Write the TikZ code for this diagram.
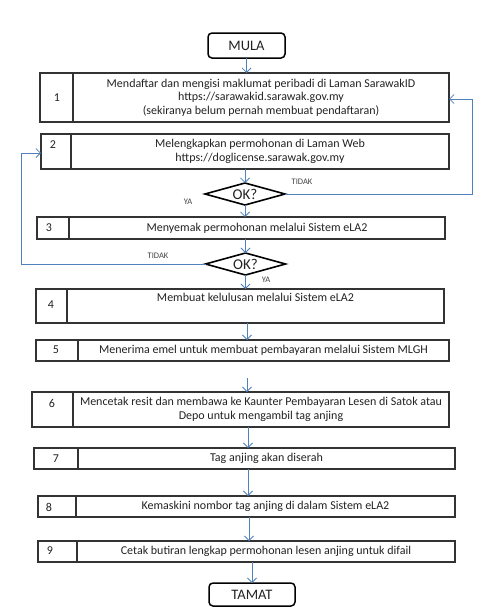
\documentclass[tikz,border=0pt]{standalone}
\usepackage{fontspec}
\setmainfont{Carlito}
\usetikzlibrary{shapes.geometric,arrows.meta,calc}
\definecolor{arrowblue}{HTML}{4F81BD}
\definecolor{boxline}{HTML}{333333}
\definecolor{txt}{HTML}{222222}
\tikzset{
  cell/.style={draw=boxline, line width=1.2pt, rectangle, inner sep=0pt, outer sep=0pt,
    font=\fontsize{12}{13.5}\selectfont, text=txt, align=center},
  term/.style={draw=black, line width=1.5pt, rounded corners=4pt, inner sep=0pt, outer sep=0pt,
    font=\fontsize{14.5}{16}\selectfont, text=txt},
  dec/.style={diamond, draw=black, line width=1.6pt, inner sep=0pt, outer sep=0pt,
    minimum width=80pt, minimum height=22pt, aspect=3.6, font=\fontsize{15}{16}\selectfont, text=txt},
  arr/.style={draw=arrowblue, line width=0.8pt, -{Straight Barb[length=4.5pt,width=9pt]}},
  lbl/.style={font=\fontsize{8.5}{9}\selectfont, text=txt!85, inner sep=0pt},
  num/.style={font=\fontsize{12}{13}\selectfont, text=txt, inner sep=0pt}
}
% id, x0, divider, x1, y0, y1, text, number x, number y
\newcommand\mkstep[9]{%
  \node[cell, minimum width={#3-#2}, minimum height={#6-#5}] (n#1) at ({(#2+#3)/2},{(#5+#6)/2}) {};
  \node[cell, minimum width={#4-#3}, minimum height={#6-#5}] (t#1) at ({(#3+#4)/2},{(#5+#6)/2}) {#7};
  \node[num] (l#1) at (#8,#9) {#1};
}
\begin{document}
\begin{tikzpicture}[x=1pt,y=-1pt]
\useasboundingbox (0,0) rectangle (489,613);
\node[term, minimum width=77pt, minimum height=25pt] (mula) at (246.5,45.5) {MULA};
\mkstep{1}{40}{73}{449}{73}{122}{Mendaftar dan mengisi maklumat peribadi di Laman SarawakID\\https://sarawakid.sarawak.gov.my\\(sekiranya belum pernah membuat pendaftaran)}{57}{98}
\mkstep{2}{41}{71}{449}{134}{169}{Melengkapkan permohonan di Laman Web\\https://doglicense.sarawak.gov.my}{53}{145}
\node[dec] (d1) at (245,194) {OK?};
\mkstep{3}{37}{69}{445}{217}{239}{Menyemak permohonan melalui Sistem eLA2}{49}{228}
\node[dec] (d2) at (245.5,264) {OK?};
\mkstep{4}{36}{67}{444}{289}{323}{Membuat kelulusan melalui Sistem eLA2\\\strut}{51}{305}
\mkstep{5}{36}{78}{449}{340}{361}{Menerima emel untuk membuat pembayaran melalui Sistem MLGH}{56}{350}
\mkstep{6}{32}{73}{449}{392}{427}{Mencetak resit dan membawa ke Kaunter Pembayaran Lesen di Satok atau\\Depo untuk mengambil tag anjing}{52}{403}
\mkstep{7}{34}{78}{455}{448}{469}{Tag anjing akan diserah}{56}{459}
\mkstep{8}{38}{76}{455}{496}{517}{Kemaskini nombor tag anjing di dalam Sistem eLA2}{49}{507}
\mkstep{9}{38}{77}{455}{541}{562}{Cetak butiran lengkap permohonan lesen anjing untuk difail}{50}{551}
\node[term, minimum width=86pt, minimum height=23pt] (tamat) at (252,594.5) {TAMAT};
% labels
\node[lbl] (tidak1) at (302,182) {TIDAK};
\node[lbl] (ya1) at (188,202) {YA};
\node[lbl] (tidak2) at (158,256) {TIDAK};
\node[lbl] (ya2) at (266,280) {YA};
% helper coordinates
\coordinate (r1) at (472,99);
\coordinate (q2) at (21,153);
\coordinate (g6) at (247,378);
\coordinate (x45) at (247,0);
\coordinate (x67) at (248,0);
\coordinate (x78) at (248,0);
\coordinate (x89) at (249,0);
% connectors
\draw[arr] (mula.south) -- (mula |- t1.north);
\draw[arr] (d1 |- t2.south) -- (d1.north);
\draw[arr] (d1.south) -- (d1 |- t3.north);
\draw[arr] (d2 |- t3.south) -- (d2.north);
\draw[arr] (d2.south) -- (d2 |- t4.north);
\draw[arr] (x45 |- t4.south) -- (x45 |- t5.north);
\draw[arr] (g6) -- (g6 |- t6.north);
\draw[arr] (x67 |- t6.south) -- (x67 |- t7.north);
\draw[arr] (x78 |- t7.south) -- (x78 |- t8.north);
\draw[arr] (x89 |- t8.south) -- (x89 |- t9.north);
\draw[arr] (tamat |- t9.south) -- (tamat.north);
\draw[arr] (d1.east) -| (r1) -- (r1 -| t1.east);
\draw[arr] (d2.west) -| (q2) -- (q2 -| n2.west);
\end{tikzpicture}
\end{document}
